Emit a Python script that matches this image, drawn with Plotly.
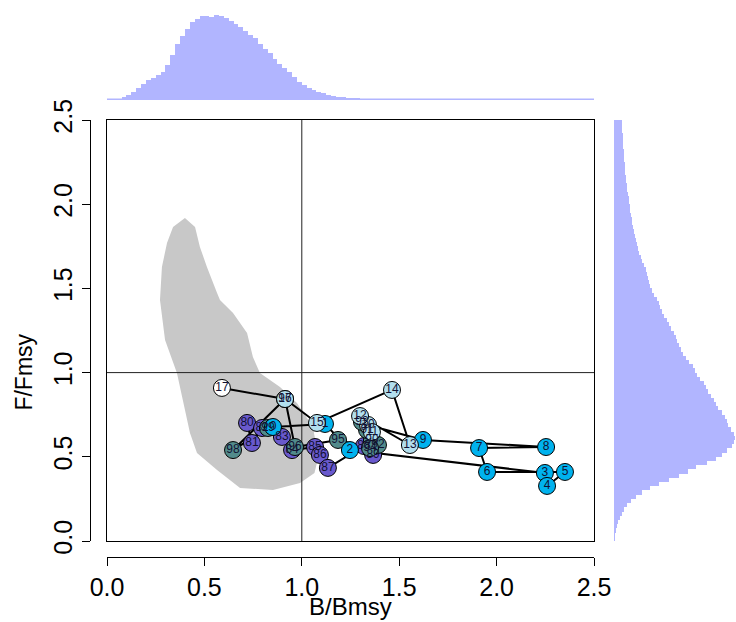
import plotly.graph_objects as go

# ---------------- data ----------------
years = ["80", "81", "82", "83", "84", "85", "86", "87", "88", "89",
         "90", "91", "92", "93", "94", "95", "96", "97", "98", "99",
         "0", "1", "2", "3", "4", "5", "6", "7", "8", "9",
         "10", "11", "12", "13", "14", "15", "16", "17"]
b_bmsy = [0.719, 0.744, 0.796, 0.898, 0.950, 1.068, 1.093, 1.134, 1.319, 1.366,
          1.360, 1.335, 1.391, 1.309, 1.350, 1.186, 0.965, 0.914, 0.647, 0.826,
          0.852, 1.119, 1.247, 2.248, 2.259, 2.351, 1.951, 1.910, 2.254, 1.622,
          1.340, 1.360, 1.299, 1.555, 1.463, 1.078, 0.914, 0.590]
f_fmsy = [0.701, 0.582, 0.671, 0.618, 0.540, 0.558, 0.511, 0.434, 0.564, 0.511,
          0.600, 0.659, 0.570, 0.707, 0.552, 0.600, 0.558, 0.843, 0.540, 0.671,
          0.677, 0.695, 0.540, 0.404, 0.327, 0.410, 0.410, 0.552, 0.558, 0.600,
          0.689, 0.647, 0.742, 0.570, 0.897, 0.701, 0.843, 0.909]
decade_colors = {"80s": "#6959CD", "90s": "#528B8B", "00s": "#00B2EE",
                 "10s": "#B2DFEE", "last": "#FFFFFF"}

# confidence region (B/Bmsy, F/Fmsy)
region_b = [0.400, 0.452, 0.477, 0.513, 0.565, 0.580, 0.647, 0.719, 0.749, 0.785,
            0.888, 0.975, 1.057, 1.085, 1.065, 0.991, 0.852, 0.683, 0.565, 0.462,
            0.426, 0.390, 0.359, 0.298, 0.272, 0.282, 0.308, 0.339]
region_f = [1.918, 1.865, 1.746, 1.627, 1.473, 1.431, 1.354, 1.235, 1.093, 0.998,
            0.914, 0.819, 0.677, 0.499, 0.404, 0.344, 0.303, 0.315, 0.422, 0.523,
            0.641, 0.837, 0.998, 1.194, 1.431, 1.627, 1.770, 1.865]

# marginal histograms (bin width 0.025 from 0 to 2.5)
bin_width = 0.025
hist_b = [0, 0.5, 1, 3, 5, 8, 12, 16, 20, 22,
          25, 28, 35, 45, 56, 64, 71, 78, 81, 84,
          84, 83, 85, 84, 82, 79, 76, 73, 69, 65,
          62, 56, 51, 47, 41, 36, 32, 28, 23, 18,
          15, 12, 10, 8, 7, 5, 4, 3.5, 3, 2.5,
          2, 1.5, 1, 1, 1, 1, 1, 1, 1, 1,
          0.5, 0.5, 1, 0.5, 0.5, 1, 0.5, 0, 0, 0,
          0, 0, 0, 0, 0, 0, 0, 0, 0, 0,
          0, 0, 0, 0, 0, 0, 0, 0, 0, 0,
          0, 0, 0, 0, 0, 0, 0, 0, 0, 0]
hist_f = [0.5, 1, 2, 3, 4, 6, 8, 10, 13, 17,
          22, 28, 36, 45, 55, 65, 74, 82, 93, 102,
          108, 113, 118, 120, 121, 120, 117, 114, 113, 111,
          108, 104, 102, 100, 97, 94, 92, 90, 86, 83,
          81, 79, 75, 72, 69, 67, 65, 63, 62, 60,
          57, 55, 53, 50, 48, 46, 45, 43, 40, 38,
          36, 35, 34, 33, 32, 30, 28, 27, 25, 24,
          23, 22, 21, 20, 19, 18, 18, 17, 16, 16,
          15, 15, 14, 13, 13, 12, 12, 11, 11, 11,
          10, 10, 10, 9, 9, 9, 9, 8, 8, 8]

tick_vals = [0.0, 0.5, 1.0, 1.5, 2.0, 2.5]
tick_text = ["0.0", "0.5", "1.0", "1.5", "2.0", "2.5"]

# ---------------- figure ----------------
W, H = 736, 622
FONT = "Liberation Sans, Arial, sans-serif"
HIST_COL = "#b1b5ff"


def decade(label):
    v = int(label)
    if label == years[-1]:
        return "last"
    if v >= 80:
        return "80s" if v < 90 else "90s"
    return "00s" if v < 10 else "10s"


point_colors = [decade_colors[decade(y)] for y in years]
bin_centers = [bin_width / 2 + i * bin_width for i in range(len(hist_b))]

fig = go.Figure()

# confidence region
fig.add_trace(go.Scatter(x=region_b + region_b[:1], y=region_f + region_f[:1],
                         fill="toself", fillcolor="#c8c8c8", mode="lines",
                         line=dict(width=0, color="#c8c8c8"), hoverinfo="skip"))
# reference lines at 1
fig.add_trace(go.Scatter(x=[1, 1], y=[0, 2.5], mode="lines",
                         line=dict(color="#222222", width=1), hoverinfo="skip"))
fig.add_trace(go.Scatter(x=[0, 2.5], y=[1, 1], mode="lines",
                         line=dict(color="#222222", width=1), hoverinfo="skip"))
# trajectory
fig.add_trace(go.Scatter(x=b_bmsy, y=f_fmsy, mode="lines",
                         line=dict(color="black", width=2), hoverinfo="skip"))
fig.add_trace(go.Scatter(x=b_bmsy, y=f_fmsy, mode="markers+text", text=years,
                         textposition="middle center",
                         textfont=dict(family=FONT, size=12, color="#111133"),
                         marker=dict(size=17, color=point_colors,
                                     line=dict(color="black", width=1))))

# top histogram
fig.add_trace(go.Bar(x=bin_centers, y=hist_b, width=bin_width,
                     marker=dict(color=HIST_COL, line=dict(width=0)),
                     xaxis="x2", yaxis="y2", hoverinfo="skip"))
# right histogram
fig.add_trace(go.Bar(x=hist_f, y=bin_centers, width=bin_width, orientation="h",
                     marker=dict(color=HIST_COL, line=dict(width=0)),
                     xaxis="x3", yaxis="y3", hoverinfo="skip"))
# carrier for detached axes
fig.add_trace(go.Scatter(x=[0], y=[0], mode="markers", marker=dict(opacity=0),
                         xaxis="x4", yaxis="y4", hoverinfo="skip"))

x_dom = [107 / W, 594 / W]
y_dom = [1 - 541 / H, 1 - 120 / H]
box = dict(showline=True, mirror=True, linecolor="black", linewidth=1,
           showgrid=False, zeroline=False, ticks="", showticklabels=False,
           range=[0, 2.5], fixedrange=True, automargin=False)
hidden = dict(visible=False, showgrid=False, zeroline=False, fixedrange=True,
              automargin=False)
detached = dict(range=[0, 2.5], tickmode="array", tickvals=tick_vals,
                ticktext=tick_text, ticks="outside", ticklen=8, tickcolor="black",
                tickwidth=1, showline=True, linecolor="black", linewidth=1,
                showgrid=False, zeroline=False, anchor="free", automargin=False,
                tickfont=dict(family=FONT, size=25, color="black"))

fig.update_layout(
    template="none",
    width=W, height=H, margin=dict(l=0, r=0, t=0, b=0, autoexpand=False),
    paper_bgcolor="white", plot_bgcolor="rgba(0,0,0,0)",
    showlegend=False, bargap=0,
    xaxis=dict(domain=x_dom, anchor="y", **box),
    yaxis=dict(domain=y_dom, anchor="x", **box),
    xaxis2=dict(domain=x_dom, anchor="y2", range=[0, 2.5], **hidden),
    yaxis2=dict(domain=[1 - 100 / H, 1 - 14 / H], anchor="x2", range=[0, 86], **hidden),
    xaxis3=dict(domain=[614 / W, 1.0], anchor="y3", range=[0, 122], **hidden),
    yaxis3=dict(domain=y_dom, anchor="x3", range=[0, 2.5], **hidden),
    xaxis4=dict(overlaying="x", position=1 - 557 / H, side="bottom", **detached),
    yaxis4=dict(overlaying="y", position=90 / W, side="left", tickangle=-90, **detached),
    annotations=[
        dict(text="B/Bmsy", xref="x", yref="paper", x=1.25, y=1 - 606 / H,
             xanchor="center", yanchor="middle",
             showarrow=False, font=dict(family=FONT, size=24, color="black")),
        dict(text="F/Fmsy", xref="paper", yref="y", x=24 / W, y=1.0, textangle=-90,
             xanchor="center", yanchor="middle",
             showarrow=False, font=dict(family=FONT, size=23, color="black")),
    ],
)
fig.add_shape(type="line", xref="x2", yref="y2", x0=0, x1=2.52, y0=0.4, y1=0.4,
              line=dict(color=HIST_COL, width=2))

fig.write_html("out.html")
